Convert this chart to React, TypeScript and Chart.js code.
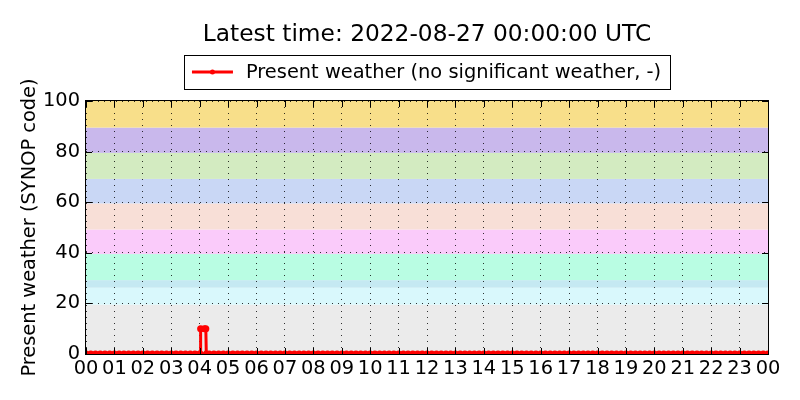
import { useEffect, useRef } from "react";
import { Chart, registerables } from "chart.js";

Chart.register(...registerables);

// observation times in minutes after 00:00 UTC (one row per hour) and the SYNOP present weather code
const obsMinutes = [
  0, 10, 20, 30, 40, 50,
  60, 70, 80, 90, 100, 110,
  120, 130, 140, 150, 160, 170,
  180, 190, 200, 210, 220, 230,
  240, 241, 242, 250, 253, 254, 260, 270, 280, 290,
  300, 310, 320, 330, 340, 350,
  360, 370, 380, 390, 400, 410,
  420, 430, 440, 450, 460, 470,
  480, 490, 500, 510, 520, 530,
  540, 550, 560, 570, 580, 590,
  600, 610, 620, 630, 640, 650,
  660, 670, 680, 690, 700, 710,
  720, 730, 740, 750, 760, 770,
  780, 790, 800, 810, 820, 830,
  840, 850, 860, 870, 880, 890,
  900, 910, 920, 930, 940, 950,
  960, 970, 980, 990, 1000, 1010,
  1020, 1030, 1040, 1050, 1060, 1070,
  1080, 1090, 1100, 1110, 1120, 1130,
  1140, 1150, 1160, 1170, 1180, 1190,
  1200, 1210, 1220, 1230, 1240, 1250,
  1260, 1270, 1280, 1290, 1300, 1310,
  1320, 1330, 1340, 1350, 1360, 1370,
  1380, 1390, 1400, 1410, 1420, 1430,
  1440,
];
const weatherCode = [
  0, 0, 0, 0, 0, 0,
  0, 0, 0, 0, 0, 0,
  0, 0, 0, 0, 0, 0,
  0, 0, 0, 0, 0, 0,
  0, 0, 10, 10, 10, 0, 0, 0, 0, 0,
  0, 0, 0, 0, 0, 0,
  0, 0, 0, 0, 0, 0,
  0, 0, 0, 0, 0, 0,
  0, 0, 0, 0, 0, 0,
  0, 0, 0, 0, 0, 0,
  0, 0, 0, 0, 0, 0,
  0, 0, 0, 0, 0, 0,
  0, 0, 0, 0, 0, 0,
  0, 0, 0, 0, 0, 0,
  0, 0, 0, 0, 0, 0,
  0, 0, 0, 0, 0, 0,
  0, 0, 0, 0, 0, 0,
  0, 0, 0, 0, 0, 0,
  0, 0, 0, 0, 0, 0,
  0, 0, 0, 0, 0, 0,
  0, 0, 0, 0, 0, 0,
  0, 0, 0, 0, 0, 0,
  0, 0, 0, 0, 0, 0,
  0, 0, 0, 0, 0, 0,
  0,
];

const hourLabels = [
  "00", "01", "02", "03", "04", "05", "06", "07", "08", "09", "10", "11",
  "12", "13", "14", "15", "16", "17", "18", "19", "20", "21", "22", "23", "00",
];
const yTicks = [0, 20, 40, 60, 80, 100];

// background bands for the SYNOP code groups
const bandFrom = [0, 19.5, 26.2, 29.2, 39.5, 49.2, 59.5, 69.2, 79.5, 89.5];
const bandTo = [19.5, 26.2, 29.2, 39.5, 49.2, 59.5, 69.2, 79.5, 89.5, 100];
const bandColors = [
  "#ebebeb", "#d9f8fc", "#c5e9f2", "#b9fde3", "#facbfa",
  "#f8dfd7", "#c9d7f5", "#d3ebc1", "#c9b8ec", "#f8df8a",
];

const titleText = "Latest time: 2022-08-27 00:00:00 UTC";
const legendText = "Present weather (no significant weather, -)";
const yTitle = "Present weather (SYNOP code)";
const FONT = "DejaVu Sans";
const FS = 19.4;

const decor = {
  id: "decor",
  beforeDraw(chart: any) {
    const { ctx, chartArea: a, scales } = chart;
    const y = scales.y;
    ctx.save();
    bandFrom.forEach((lo, i) => {
      const top = y.getPixelForValue(bandTo[i]);
      const bot = y.getPixelForValue(lo);
      ctx.fillStyle = bandColors[i];
      ctx.fillRect(a.left, top, a.right - a.left, bot - top);
    });
    ctx.restore();
  },
  afterDraw(chart: any) {
    const { ctx, chartArea: a, scales } = chart;
    ctx.save();
    // frame
    ctx.strokeStyle = "#000";
    ctx.lineWidth = 1;
    ctx.strokeRect(a.left - 0.5, a.top - 0.5, a.right - a.left + 1, a.bottom - a.top + 1);
    // inward ticks
    ctx.beginPath();
    scales.x.ticks.forEach((t: any) => {
      const px = Math.round(scales.x.getPixelForValue(t.value)) + 0.5;
      ctx.moveTo(px, a.bottom); ctx.lineTo(px, a.bottom - 6);
      ctx.moveTo(px, a.top); ctx.lineTo(px, a.top + 6);
    });
    scales.y.ticks.forEach((t: any) => {
      const py = Math.round(scales.y.getPixelForValue(t.value)) + 0.5;
      ctx.moveTo(a.left, py); ctx.lineTo(a.left + 6, py);
      ctx.moveTo(a.right, py); ctx.lineTo(a.right - 6, py);
    });
    ctx.stroke();

    const cx = (a.left + a.right) / 2;
    // title
    ctx.fillStyle = "#000";
    ctx.font = `23.3px '${FONT}'`;
    ctx.textAlign = "center";
    ctx.textBaseline = "middle";
    ctx.fillText(titleText, cx, 35);

    // legend
    ctx.font = `${FS}px '${FONT}'`;
    const tw = ctx.measureText(legendText).width;
    const w = tw + 71;
    const lx = cx - w / 2;
    const ly = 55;
    const lh = 34;
    ctx.fillStyle = "#fff";
    ctx.fillRect(lx, ly, w, lh);
    ctx.strokeStyle = "#000";
    ctx.lineWidth = 1;
    ctx.strokeRect(Math.round(lx) + 0.5, ly + 0.5, Math.round(w), lh);
    ctx.strokeStyle = "#ff0000";
    ctx.lineWidth = 3;
    ctx.beginPath();
    ctx.moveTo(lx + 8, ly + 17);
    ctx.lineTo(lx + 49, ly + 17);
    ctx.stroke();
    ctx.fillStyle = "#ff0000";
    ctx.beginPath();
    ctx.arc(lx + 28.5, ly + 17, 2.5, 0, Math.PI * 2);
    ctx.fill();
    ctx.fillStyle = "#000";
    ctx.textAlign = "left";
    ctx.fillText(legendText, lx + 62, ly + 18);

    // y axis title
    ctx.translate(30, (a.top + a.bottom) / 2);
    ctx.rotate(-Math.PI / 2);
    ctx.textAlign = "center";
    ctx.fillText(yTitle, 0, 0);
    ctx.restore();
  },
};

export default function App() {
  const ref = useRef<HTMLCanvasElement | null>(null);

  useEffect(() => {
    document.body.style.margin = "0";
    if (!ref.current) return;
    const chart = new Chart(ref.current, {
      type: "line",
      data: {
        datasets: [
          {
            label: legendText,
            data: obsMinutes.map((m, i) => ({ x: m, y: weatherCode[i] })),
            borderColor: "#ff0000",
            backgroundColor: "#ff0000",
            borderWidth: 3,
            pointRadius: 3.5,
            pointBorderWidth: 0,
            tension: 0,
            clip: 0,
          },
        ],
      },
      options: {
        animation: false,
        responsive: false,
        maintainAspectRatio: false,
        layout: { padding: { top: 101, right: 32, left: 0, bottom: 0 } },
        plugins: { legend: { display: false }, title: { display: false }, tooltip: { enabled: false } },
        scales: {
          x: {
            type: "linear",
            min: 0,
            max: 1440,
            afterBuildTicks: (s: any) => {
              s.ticks = hourLabels.map((_, i) => ({ value: i * 60 }));
            },
            ticks: {
              autoSkip: false,
              maxRotation: 0,
              padding: 3,
              color: "#000",
              font: { family: FONT, size: FS },
              callback: (v: any) => hourLabels[Math.round(Number(v) / 60)],
            },
            grid: { color: "#000", lineWidth: 0.8, drawTicks: false },
            border: { display: false, dash: [1, 5] },
            afterFit: (s: any) => { s.height = 46; },
          },
          y: {
            min: 0,
            max: 100,
            afterBuildTicks: (s: any) => {
              s.ticks = yTicks.map((v) => ({ value: v }));
            },
            ticks: {
              padding: 6,
              color: "#000",
              font: { family: FONT, size: FS },
            },
            grid: { color: "#000", lineWidth: 0.8, drawTicks: false },
            border: { display: false, dash: [1, 5] },
            afterFit: (s: any) => { s.width = 86; },
          },
        },
      },
      plugins: [decor],
    });
    return () => chart.destroy();
  }, []);

  return (
    <div style={{ width: 800, height: 400, background: "#fff" }}>
      <canvas ref={ref} width={800} height={400} />
    </div>
  );
}
